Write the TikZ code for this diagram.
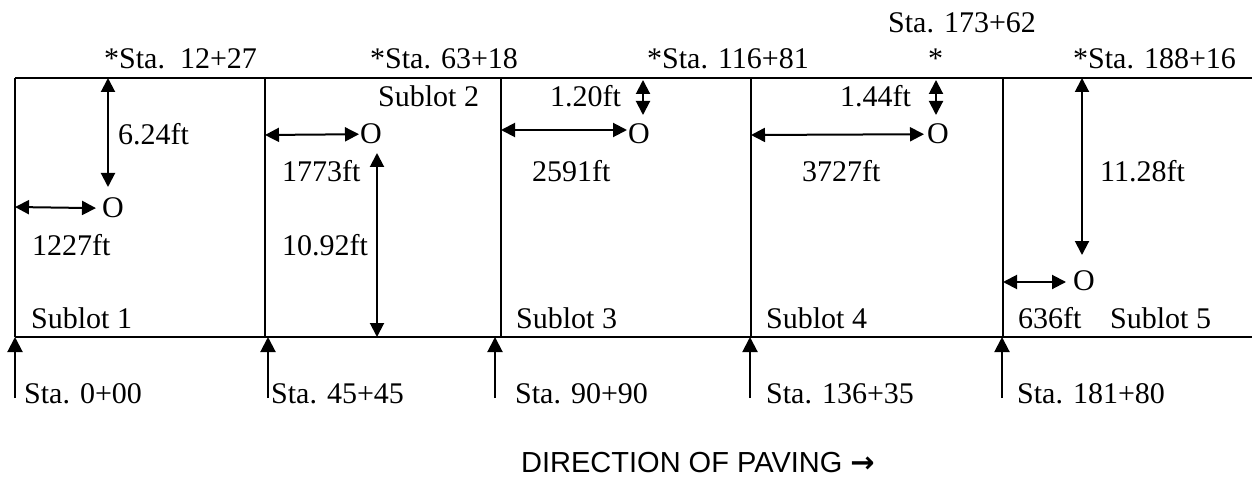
\documentclass[tikz,border=0pt]{standalone}
\usepackage{fontspec}
\setmainfont{Liberation Serif}
\newfontfamily\arialfont{Liberation Sans}
\newfontfamily\arrowfont{DejaVu Sans Bold}
\usepackage{tikz}
\usetikzlibrary{arrows.meta, positioning}

\tikzset{
  lbl/.style={inner sep=0pt, anchor=base west, font=\fontsize{30}{34}\selectfont},
  dirlbl/.style={inner sep=0pt, anchor=base west, font=\arialfont\fontsize{29}{33}\selectfont},
  frame/.style={line width=2pt},
  dim/.style={{Triangle[length=14pt,width=14pt]}-{Triangle[length=14pt,width=14pt]}, line width=2pt},
  sta/.style={-{Triangle[length=15pt,width=15pt]}, line width=2pt}
}

\begin{document}
\begin{tikzpicture}[x=1pt,y=-1pt]
  \useasboundingbox (0,0) rectangle (1252,481);
  % lot outline and sublot borders
  \draw[frame] (15,78) -- (1252,78);
  \draw[frame] (15,337) -- (1252,337);
  \foreach \x in {15,265,501,751,1003}
    \draw[frame] (\x,78) -- (\x,337);

  % stations of the random samples
  \node[lbl] (top1) at (104,69) {*Sta.\ \ 12+27};
  \node[lbl] (top2) at (370,69) {*Sta. 63+18};
  \node[lbl] (top3) at (647,69) {*Sta. 116+81};
  \node[lbl] (top4) at (928,69) {*};
  \node[lbl] (top4s) at (888,33) {Sta. 173+62};
  \node[lbl] (top5) at (1073,69) {*Sta. 188+16};

  % sample points
  \node[lbl] (o1) at (102,218) {O};
  \node[lbl] (o2) at (360,144) {O};
  \node[lbl] (o3) at (628,144) {O};
  \node[lbl] (o4) at (927,144) {O};
  \node[lbl] (o5) at (1073,290) {O};

  % sublot 1
  \coordinate (l1) at (15,207);
  \coordinate (t1) at (108,78);
  \coordinate (t1b) at (108,187);
  \draw[dim, shorten >=6pt] (l1) -- (o1.west);
  \draw[dim] (t1) -- (t1b);
  \node[lbl] (v1) at (118,145) {6.24ft};
  \node[lbl] (h1) at (32,255) {1227ft};
  \node[lbl] (sub1) at (31,328) {Sublot 1};

  % sublot 2
  \coordinate (l2) at (265,135);
  \coordinate (t2) at (377,153);
  \coordinate (t2b) at (377,337);
  \draw[dim, shorten >=1pt] (l2) -- (o2.west);
  \draw[dim] (t2) -- (t2b);
  \node[lbl] (sub2) at (378,107) {Sublot 2};
  \node[lbl] (h2) at (282,182) {1773ft};
  \node[lbl] (v2) at (282,255) {10.92ft};

  % sublot 3
  \coordinate (l3) at (501,130);
  \coordinate (t3) at (643,80);
  \coordinate (t3b) at (643,115);
  \draw[dim, shorten >=1pt] (l3) -- (l3 -| o3.west);
  \draw[dim] (t3) -- (t3b);
  \node[lbl] (v3) at (550,107) {1.20ft};
  \node[lbl] (h3) at (532,182) {2591ft};
  \node[lbl] (sub3) at (516,328) {Sublot 3};

  % sublot 4
  \coordinate (l4) at (751,135);
  \coordinate (t4) at (936,80);
  \coordinate (t4b) at (936,115);
  \draw[dim, shorten >=3pt] (l4) -- (o4.west);
  \draw[dim] (t4) -- (t4b);
  \node[lbl] (v4) at (840,107) {1.44ft};
  \node[lbl] (h4) at (802,182) {3727ft};
  \node[lbl] (sub4) at (766,328) {Sublot 4};

  % sublot 5
  \coordinate (l5) at (1003,282);
  \coordinate (t5) at (1082,78);
  \coordinate (t5b) at (1082,255);
  \draw[dim, shorten >=7pt] (l5) -- (l5 -| o5.west);
  \draw[dim] (t5) -- (t5b);
  \node[lbl] (v5) at (1100,182) {11.28ft};
  \node[lbl] (h5) at (1018,328) {636ft};
  \node[lbl] (sub5) at (1110,328) {Sublot 5};

  % sublot boundary stations
  \foreach \x/\lx/\txt [count=\i] in {15/24/0+00, 268/271/45+45, 495/515/90+90,
      750/766/136+35, 1002/1017/181+80} {
    \coordinate (s\i) at (\x,398);
    \coordinate (s\i t) at (\x,337);
    \draw[sta] (s\i) -- (s\i t);
    \node[lbl] (sl\i) at (\lx,403) {Sta. \txt};
  }

  \node[dirlbl] (dir) at (521,472) {DIRECTION OF PAVING {\arrowfont →}};
\end{tikzpicture}
\end{document}
